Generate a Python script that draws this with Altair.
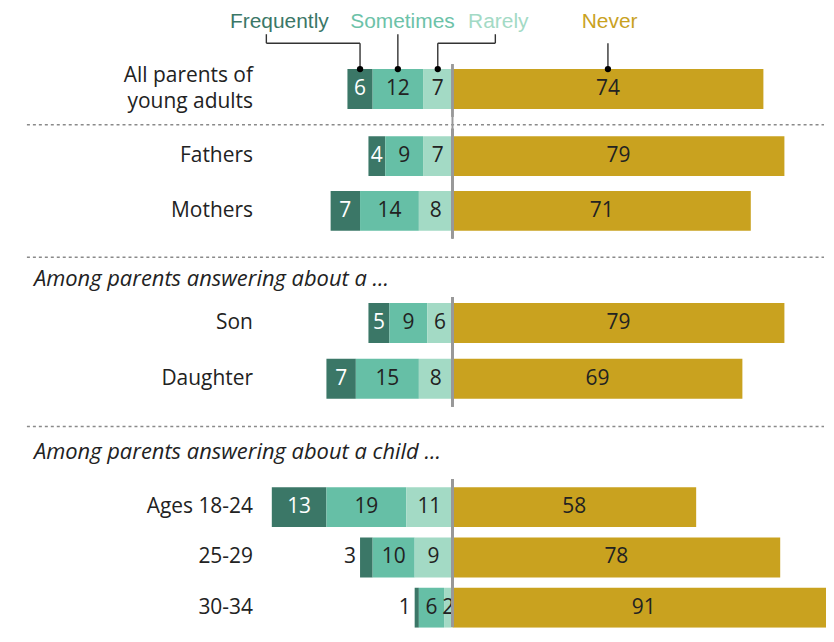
import altair as alt
import pandas as pd

# ---------------- data ----------------
groups = ["All parents of young adults", "Fathers", "Mothers", "Son", "Daughter",
          "Ages 18-24", "25-29", "30-34"]
frequently = [6, 4, 7, 5, 7, 13, 3, 1]
sometimes = [12, 9, 14, 9, 15, 19, 10, 6]
rarely = [7, 7, 8, 6, 8, 11, 9, 2]
never = [74, 79, 71, 79, 69, 58, 78, 91]

categories = ["Frequently", "Sometimes", "Rarely", "Never"]
bar_colors = ["#3b7767", "#66bfa6", "#a3dac5", "#c9a21f"]
legend_colors = ["#3b7767", "#6cc2a8", "#a3dac5", "#c9a21f"]

headers = ["Among parents answering about a ...",
           "Among parents answering about a child ..."]

# ---------------- style / layout ----------------
FONT = "Open Sans"
LEG_FONT = "Liberation Sans"
TXT = "#222222"
XDOM = [-45, 88.9]
W = 565
BAR = 40
legend_x = [-41.2, -11.9, 10.9, 37.4]     # legend label centres (value units)
elbow_x = [-44.3, None, 10.2, None]       # leader elbows (value units)

rows = []
for g, f, s, r, n in zip(groups, frequently, sometimes, rarely, never):
    segs = [("Frequently", -(r + s + f), -(r + s), f),
            ("Sometimes", -(r + s), -r, s),
            ("Rarely", -r, 0, r),
            ("Never", 0, n, n)]
    for cat, x0, x1, v in segs:
        rows.append(dict(group=g, cat=cat, x0=x0, x1=x1, mid=(x0 + x1) / 2, v=v))
df = pd.DataFrame(rows)

xscale = alt.Scale(domain=XDOM, nice=False, zero=False, clamp=True)
color = alt.Color("cat:N", scale=alt.Scale(domain=categories, range=bar_colors), legend=None)


def bar_panel(names, step, H=None, rule_top=0, rule_bottom=None, extra=None, label_offset=0):
    n = len(names)
    pi = (step - BAR) / step
    if H is None:
        H = n * step
        sc = dict(domain=names, paddingInner=pi, paddingOuter=pi / 2)
    else:
        po = (H / step - n + pi) / 2
        sc = dict(domain=names, paddingInner=pi, paddingOuter=po, align=1)
    sub = df[df.group.isin(names)]
    y = alt.Y("group:N", sort=names, scale=alt.Scale(**sc),
              axis=alt.Axis(title=None, domain=False, ticks=False, labelPadding=11,
                            labelFont=FONT, labelFontSize=21, labelColor=TXT,
                            labelLimit=0, labelLineHeight=26, labelOffset=label_offset,
                            labelExpr="datum.value == 'All parents of young adults' ? "
                                      "['All parents of', 'young adults'] : datum.label"))
    base = alt.Chart(sub)
    bars = base.mark_bar(clip=True).encode(
        x=alt.X("x0:Q", scale=xscale, axis=None), x2="x1", y=y, color=color)
    t_in_white = base.transform_filter("datum.cat == 'Frequently' && datum.v >= 4").mark_text(
        font=FONT, fontSize=21, color="white", baseline="middle").encode(
        x=alt.X("mid:Q", scale=xscale), y=y, text="v:Q")
    t_out = base.transform_filter("datum.cat == 'Frequently' && datum.v < 4").mark_text(
        font=FONT, fontSize=21, color=TXT, baseline="middle", align="right", dx=-4).encode(
        x=alt.X("x0:Q", scale=xscale), y=y, text="v:Q")
    t_dark = base.transform_filter("datum.cat != 'Frequently'").mark_text(
        font=FONT, fontSize=21, color=TXT, baseline="middle").encode(
        x=alt.X("mid:Q", scale=xscale), y=y, text="v:Q")
    rb = H if rule_bottom is None else rule_bottom
    center = base.mark_rule(color="#999999", strokeWidth=2).encode(
        x=alt.X(datum=0, scale=xscale), y=alt.value(rule_top), y2=alt.value(rb))
    layers = [bars, t_in_white, t_out, t_dark, center]
    if extra is not None:
        layers.append(extra)
    return alt.layer(*layers).properties(width=W, height=H)


def spacer(H, sep_y, header=None, header_y=None, center=None):
    one = alt.Chart(pd.DataFrame({"t": [header if header else ""]}))
    layers = [one.mark_rule(color="#8a8a8a", strokeWidth=1.5, strokeDash=[3, 3]).encode(
        x=alt.value(-237.5), x2=alt.value(W - 2), y=alt.value(sep_y))]
    if header:
        layers.append(one.mark_text(font=FONT, fontSize=22, fontStyle="italic", color=TXT,
                                    align="left", baseline="middle").encode(
            text="t:N", x=alt.value(-230.5), y=alt.value(header_y)))
    if center:
        layers.append(one.mark_rule(color="#999999", strokeWidth=2).encode(
            x=alt.X(datum=0, scale=xscale, axis=None), y=alt.value(0), y2=alt.value(H)))
    return alt.layer(*layers).properties(width=W, height=H)


# legend panel (labels + leader lines to the first bar)
first = df[df.group == groups[0]].set_index("cat")
leg_df = pd.DataFrame({"cat": categories, "x": legend_x})
lead = []
for cat, ex in zip(categories, elbow_x):
    m = first.loc[cat, "mid"]
    if cat == "Sometimes":
        lead.append(dict(x=m, x2=m, y=60, y2=25))
    elif ex is None:
        lead.append(dict(x=m, x2=m, y=60, y2=34))
    else:
        lead.append(dict(x=m, x2=m, y=60, y2=34))
        lead.append(dict(x=m, x2=ex, y=34, y2=34))
        lead.append(dict(x=ex, x2=ex, y=34, y2=25))
lead_df = pd.DataFrame(lead)

leg_text = alt.Chart(leg_df).mark_text(font=LEG_FONT, fontSize=21, baseline="top").encode(
    x=alt.X("x:Q", scale=xscale, axis=None), y=alt.value(2), text="cat:N",
    color=alt.Color("cat:N", scale=alt.Scale(domain=categories, range=legend_colors), legend=None))
leg_lines = alt.Chart(lead_df).mark_rule(color="#333333", strokeWidth=1.4).encode(
    x=alt.X("x:Q", scale=xscale), x2="x2", y=alt.Y("y:Q", scale=None), y2="y2")
legend_panel = alt.layer(leg_text, leg_lines).properties(width=W, height=52)

dots = alt.Chart(df[df.group == groups[0]]).mark_circle(size=40, color="black", opacity=1).encode(
    x=alt.X("mid:Q", scale=xscale), y=alt.value(8))

pA = bar_panel(groups[0:1], 56, rule_top=3, extra=dots, label_offset=-13)
s1 = spacer(12, 8, center=True)
pB = bar_panel(groups[1:3], 55)
s2 = spacer(57, 19, headers[0], 41)
pC = bar_panel(groups[3:5], 56, rule_top=2)
s3 = spacer(74, 20, headers[1], 46)
pD = bar_panel(groups[5:8], 50.5, H=148, rule_top=-1, rule_bottom=147)

chart = alt.vconcat(legend_panel, pA, s1, pB, s2, pC, s3, pD, spacing=0, bounds="flush").properties(
    padding={"left": 17.5, "top": 0, "right": 0, "bottom": 0}
).configure_view(stroke=None).resolve_scale(color="independent")

chart.save("out.html", embed_options={"renderer": "svg", "actions": False})
